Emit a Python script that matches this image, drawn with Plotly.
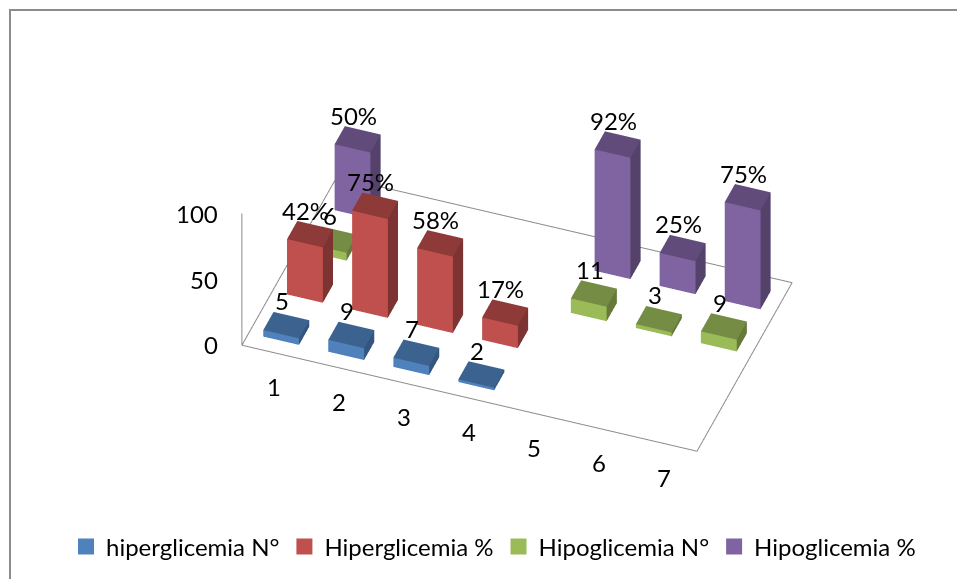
import plotly.graph_objects as go

categories = ["1", "2", "3", "4", "5", "6", "7"]
series_names = ["hiperglicemia N°", "Hiperglicemia %", "Hipoglicemia N°", "Hipoglicemia %"]
hiper_n = [5, 9, 7, 2, None, None, None]
hiper_pct = [42, 75, 58, 17, None, None, None]
hipo_n = [6, None, None, None, 11, 3, 9]
hipo_pct = [50, None, None, None, 92, 25, 75]
z_ticks = [0, 50, 100]
front = ["#4F81BD", "#C0504D", "#9BBB59", "#8064A2"]
top = ["#3C6290", "#8E3A38", "#748C43", "#604B7A"]
side = ["#34557E", "#7D3331", "#66793B", "#54426B"]
GRID = "#8C8C8C"
FONT = "Lato, 'Open Sans', sans-serif"
FS = 24
BAR_W = 0.55
BAR_D = 0.43
NX, NY, ZMAX = 7, 4, 100

all_series = [hiper_n, hiper_pct, hipo_n, hipo_pct]
labels = [
    [str(v) if v is not None else None for v in hiper_n],
    [f"{v}%" if v is not None else None for v in hiper_pct],
    [str(v) if v is not None else None for v in hipo_n],
    [f"{v}%" if v is not None else None for v in hipo_pct],
]

fig = go.Figure()
annotations = []


def txt(x, y, z, text, xshift=0, yshift=0, xanchor="center"):
    annotations.append(dict(x=x, y=y, z=z, text=text, showarrow=False, xanchor=xanchor, yanchor="middle",
                            xshift=xshift, yshift=yshift, font=dict(family=FONT, size=FS, color="black")))


for s, vals in enumerate(all_series):
    X, Y, Z, I, J, K, FC = [], [], [], [], [], [], []
    for c, v in enumerate(vals):
        if v is None:
            continue
        n = len(X)
        x0, x1 = c + 0.5 - BAR_W / 2, c + 0.5 + BAR_W / 2
        y0, y1 = s + 0.5 - BAR_D / 2, s + 0.5 + BAR_D / 2
        for zz in (0, v):
            X += [x0, x1, x1, x0]
            Y += [y0, y0, y1, y1]
            Z += [zz, zz, zz, zz]
        quads = [((0, 1, 5, 4), front[s]), ((1, 2, 6, 5), side[s]), ((4, 5, 6, 7), top[s])]
        for (a, b, cc, d), col in quads:
            I += [n + a, n + a]
            J += [n + b, n + cc]
            K += [n + cc, n + d]
            FC += [col, col]
        txt(c + 0.5, s + 0.5, v, labels[s][c], xshift=-4, yshift=24)
    fig.add_trace(go.Mesh3d(x=X, y=Y, z=Z, i=I, j=J, k=K, facecolor=FC, flatshading=True,
                            lighting=dict(ambient=1, diffuse=0, specular=0, fresnel=0, roughness=1),
                            hoverinfo="skip", showlegend=False, showscale=False))

# floor outline and vertical axis
fig.add_trace(go.Scatter3d(x=[0, NX, NX, 0, 0, 0], y=[0, 0, NY, NY, 0, 0], z=[0, 0, 0, 0, 0, ZMAX],
                           mode="lines", line=dict(color=GRID, width=2), hoverinfo="skip", showlegend=False))

for t in z_ticks:
    txt(0, 0, t, str(t), xshift=-22, yshift=0, xanchor="right")
for c, lab in enumerate(categories):
    txt(c + 0.5, 0, 0, lab, yshift=-34)

# legend entries
for name, col in zip(series_names, front):
    fig.add_trace(go.Scatter(x=[None], y=[None], mode="markers", name=name,
                             marker=dict(symbol="square", size=16, color=col)))

invisible = dict(visible=False, showspikes=False, autorange=False)
EYE_D = 1.284
fig.update_layout(
    width=957, height=579, margin=dict(l=0, r=0, t=0, b=0),
    paper_bgcolor="white", plot_bgcolor="white",
    xaxis=dict(visible=False), yaxis=dict(visible=False),
    font=dict(family=FONT, size=FS, color="black"),
    showlegend=True,
    legend=dict(orientation="h", x=66 / 957, xanchor="left", y=1 - 547 / 579, yanchor="middle",
                font=dict(family=FONT, size=FS), bgcolor="rgba(0,0,0,0)"),
    shapes=[dict(type="rect", xref="paper", yref="paper", x0=10 / 957, x1=1.01, y0=-0.01, y1=1 - 10 / 579,
                 line=dict(color=GRID, width=2), fillcolor="rgba(0,0,0,0)")],
    scene=dict(
        domain=dict(x=[0.08, 1], y=[0.144, 1]),
        xaxis=dict(range=[0, NX], **invisible),
        yaxis=dict(range=[0, NY], **invisible),
        zaxis=dict(range=[0, ZMAX], **invisible),
        aspectmode="manual",
        aspectratio=dict(x=1.952, y=1.125, z=0.694),
        camera=dict(projection=dict(type="orthographic"),
                    up=dict(x=0, y=0, z=1), center=dict(x=0, y=0, z=0),
                    eye=dict(x=0.261 * EYE_D, y=-0.720 * EYE_D, z=0.642 * EYE_D)),
        annotations=annotations,
    ),
)
fig.write_html("out.html", config=dict(displayModeBar=False),
               post_script="document.body.style.margin='0';document.body.style.overflow='hidden';")
